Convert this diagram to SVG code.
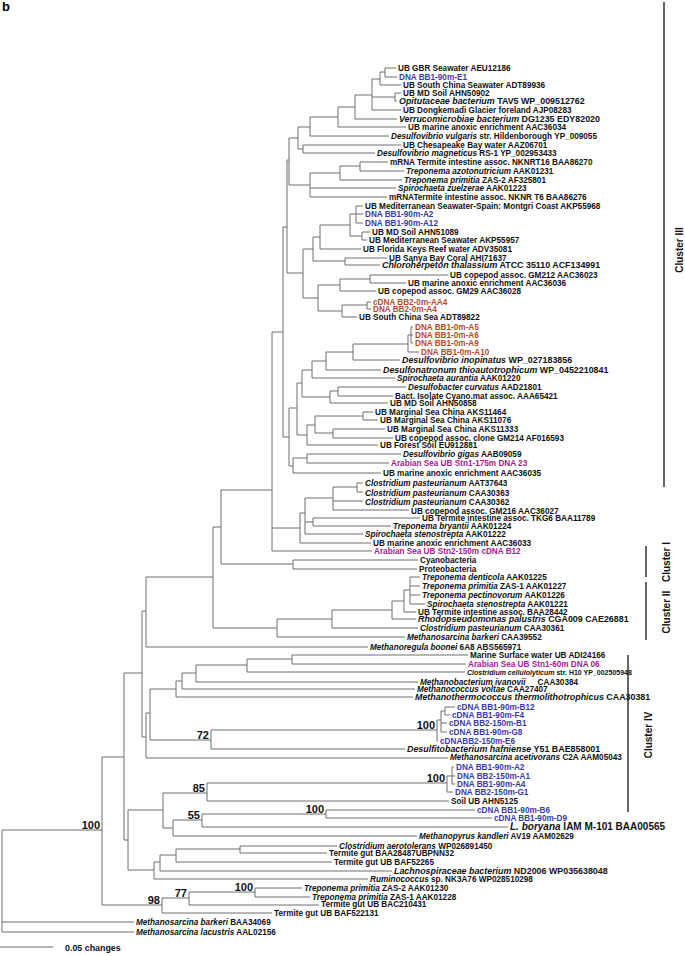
<svg xmlns="http://www.w3.org/2000/svg" width="685" height="956" viewBox="0 0 685 956">
<style>
.br{fill:none;stroke:#6e6e6e;stroke-width:1}
.L{font-family:'Liberation Sans',Arial,sans-serif;font-size:8.2px;font-weight:bold;fill:#111}
.L9{font-size:8.9px}
.L10{font-size:10px}
.L7{font-size:7px}
.i{font-style:italic}
.blue{fill:#3a3aa6}
.red{fill:#b54a2c}
.mag{fill:#a3218b}
.bs{font-family:'Liberation Sans',Arial,sans-serif;font-size:11px;font-weight:bold;text-anchor:end;fill:#111}
.cl{font-family:'Liberation Sans',Arial,sans-serif;font-size:10px;font-weight:bold;text-anchor:middle;fill:#111}
.brk{stroke:#111;stroke-width:1.3}
</style>
<rect width="685" height="956" fill="#fff"/>
<text x="2" y="11" font-family="Liberation Sans, Arial, sans-serif" font-size="13" font-weight="bold">b</text>
<g id="connectors">
<path class="br" d="M385,68V77M385,68H396M385,77H397 M380,72V85M380,72H385M380,85H401 M395,93V101M395,93H401M395,101H397 M372,79V110M372,79H380M372,97H395M372,110H401 M355,95V119M355,95H372M355,119H397 M338,107V127M338,107H355M338,127H406 M310,117V136M310,117H338M310,136H389 M303,145V153M303,145H401M303,153H375 M298,127V149M298,127H310M298,149H303"/>
<path class="br" d="M360,162V171M360,162H388M360,171H404 M340,166V180M340,166H360M340,180H402 M310,173V197M310,173H340M310,188H396M310,197H387 M289,138V185M289,138H298M289,185H310"/>
<path class="br" d="M356,206V223M356,206H363M356,214H363M356,223H363 M362,232V240M362,232H370M362,240H367 M350,214V236M350,214H356M350,236H362 M320,225V249M320,225H350M320,249H361 M345,258V265M345,258H387M345,265H380 M313,237V261M313,237H320M313,261H345 M370,275V283M370,275H448M370,283H406 M340,279V291M340,279H370M340,291H376 M367,302V309M367,302H371M367,309H371 M342,305V317M342,305H367M342,317H357 M318,285V311M318,285H340M318,311H342 M303,249V298M303,249H313M303,298H318 M287,160V273M287,160H289M287,273H303"/>
<path class="br" d="M411,327V343M411,327H413M411,335H413M411,343H413 M408,335V352M408,335H411M408,352H419 M353,344V360M353,344H408M353,360H400 M326,352V370M326,352H353M326,370H381 M312,361V378M312,361H326M312,378H395 M338,387V396M338,387H406M338,396H393 M330,391V403M330,391H338M330,403H388 M302,370V397M302,370H312M302,397H330 M363,412V420M363,412H373M363,420H378 M333,429V438M333,429H385M333,438H393 M315,416V433M315,416H363M315,433H333 M307,425V445M307,425H315M307,445H378 M297,383V435M297,383H302M297,435H307 M307,454V463M307,454H401M307,463H389 M293,458V473M293,458H307M293,473H381 M289,408V466M289,408H297M289,466H293 M283,227V437M283,227H287M283,437H289"/>
<path class="br" d="M357,483V492M357,483H363M357,492H363 M333,487V510M333,487H357M333,501H363M333,510H409 M313,518V526M313,518H420M313,526H391 M305,498V534M305,498H333M305,522H313M305,534H363 M300,513V543M300,513H305M300,543H371 M272,332V551M272,332H283M272,528H300M272,551H372 M293,560V569M293,560H418M293,569H417 M221,490V564M221,490H272M221,564H293"/>
<path class="br" d="M410,577V604M410,577H420M410,586H420M410,595H420M410,604H425 M404,590V612M404,590H410M404,612H416 M392,601V619M392,601H404M392,619H416 M332,610V628M332,610H392M332,628H418 M277,619V637M277,619H332M277,637H405 M213,527V628M213,527H221M213,628H277 M146,577V647M146,577H213M146,647H368"/>
<path class="br" d="M292,655V664M292,655H468M292,664H466 M247,659V672M247,659H292M247,672H465 M196,665V682M196,665H247M196,682H418 M182,673V689M182,673H196M182,689H415 M176,681V697M176,681H182M176,697H413 M445,707V715M445,707H455M445,715H450 M441,711V732M441,711H445M441,723H447M441,732H447 M437,720V741M437,720H441M437,741H438 M211,730V749M211,730H437M211,749H405 M150,689V740M150,689H176M150,740H211 M146,713V758M146,713H150M146,758H448 M142,611V737M142,611H146M142,737H146"/>
<path class="br" d="M452,767V784M452,767H454M452,776H455M452,784H455 M447,776V792M447,776H452M447,792H453 M207,783V801M207,783H447M207,801H449 M326,810V818M326,810H475M326,818H492 M202,814V827M202,814H326M202,827H508 M173,820V836M173,820H202M173,836H417 M163,793V828M163,793H207M163,828H173 M240,846V853M240,846H337M240,853H327 M176,849V862M176,849H240M176,862H332 M160,855V871M160,855H176M160,871H392 M154,862V879M154,862H160M154,879H368 M128,810V870M128,810H163M128,870H154 M124,673V840M124,673H142M124,840H128"/>
<path class="br" d="M255,888V897M255,888H302M255,897H310 M189,892V905M189,892H255M189,905H319 M162,898V913M162,898H189M162,913H272 M102,757V905M102,757H124M102,905H162 M2,830V932M2,830H102M2,922H134M2,932H134"/>
<path class="br" d="M0,947H53"/>
</g>
<g id="bootstrap">
<text class="bs" x="100" y="829">100</text>
<text class="bs" x="160" y="904">98</text>
<text class="bs" x="187" y="897">77</text>
<text class="bs" x="253" y="891">100</text>
<text class="bs" x="205" y="792">85</text>
<text class="bs" x="200" y="819">55</text>
<text class="bs" x="324" y="813">100</text>
<text class="bs" x="209" y="739">72</text>
<text class="bs" x="435" y="729">100</text>
<text class="bs" x="445" y="782">100</text>
</g>
<g id="t1"><text class="L" x="398" y="71">UB GBR Seawater AEU12186</text></g>
<g id="t2"><text class="L blue" x="399" y="80">DNA BB1-90m-E1</text></g>
<g id="t3"><text class="L" x="403" y="88">UB South China Seawater ADT89936</text></g>
<g id="t4"><text class="L" x="403" y="96">UB MD Soil AHN50902</text></g>
<g id="t5"><text class="L L9" x="399" y="104"><tspan class="i">Opitutaceae bacterium</tspan> TAV5 WP_009512762</text></g>
<g id="t6"><text class="L" x="403" y="113">UB Dongkemadi Glacier foreland AJP08283</text></g>
<g id="t7"><text class="L L9" x="399" y="122"><tspan class="i">Verrucomicrobiae bacterium</tspan> DG1235 EDY82020</text></g>
<g id="t8"><text class="L" x="408" y="130">UB marine anoxic enrichment AAC36034</text></g>
<g id="t9"><text class="L" x="391" y="139"><tspan class="i">Desulfovibrio vulgaris</tspan> str. Hildenborough YP_009055</text></g>
<g id="t10"><text class="L" x="403" y="148">UB Chesapeake Bay water AAZ06701</text></g>
<g id="t11"><text class="L" x="377" y="156"><tspan class="i">Desulfovibrio magneticus</tspan> RS-1 YP_002953433</text></g>
<g id="t12"><text class="L" x="390" y="165">mRNA Termite intestine assoc. NKNRT16 BAA86270</text></g>
<g id="t13"><text class="L" x="406" y="174"><tspan class="i">Treponema azotonutricium</tspan> AAK01231</text></g>
<g id="t14"><text class="L" x="404" y="183"><tspan class="i">Treponema primitia</tspan> ZAS-2 AF325801</text></g>
<g id="t15"><text class="L" x="398" y="191"><tspan class="i">Spirochaeta zuelzerae</tspan> AAK01223</text></g>
<g id="t16"><text class="L" x="389" y="200">mRNATermite intestine assoc. NKNR T6 BAA86276</text></g>
<g id="t17"><text class="L" x="365" y="209">UB Mediterranean Seawater-Spain: Montgri Coast AKP55968</text></g>
<g id="t18"><text class="L blue" x="365" y="217">DNA BB1-90m-A2</text></g>
<g id="t19"><text class="L blue" x="365" y="226">DNA BB1-90m-A12</text></g>
<g id="t20"><text class="L" x="372" y="235">UB MD Soil AHN51089</text></g>
<g id="t21"><text class="L" x="369" y="243">UB Mediterranean Seawater AKP55957</text></g>
<g id="t22"><text class="L" x="363" y="252">UB Florida Keys Reef water ADV35081</text></g>
<g id="t23"><text class="L" x="389" y="261">UB Sanya Bay Coral AHI71637</text></g>
<g id="t24"><text class="L L9" x="382" y="268"><tspan class="i">Chloroherpeton thalassium</tspan> ATCC 35110 ACF134991</text></g>
<g id="t25"><text class="L" x="450" y="278">UB copepod assoc. GM212 AAC36023</text></g>
<g id="t26"><text class="L" x="408" y="286">UB marine anoxic enrichment AAC36036</text></g>
<g id="t27"><text class="L" x="378" y="294">UB copepod assoc. GM29 AAC36028</text></g>
<g id="t28"><text class="L red" x="373" y="305">cDNA BB2-0m-AA4</text></g>
<g id="t29"><text class="L red" x="373" y="312">DNA BB2-0m-A4</text></g>
<g id="t30"><text class="L" x="359" y="320">UB South China Sea ADT89822</text></g>
<g id="t31"><text class="L red" x="415" y="330">DNA BB1-0m-A5</text></g>
<g id="t32"><text class="L red" x="415" y="338">DNA BB1-0m-A6</text></g>
<g id="t33"><text class="L red" x="415" y="346">DNA BB1-0m-A9</text></g>
<g id="t34"><text class="L red" x="421" y="355">DNA BB1-0m-A10</text></g>
<g id="t35"><text class="L L9" x="402" y="363"><tspan class="i">Desulfovibrio inopinatus</tspan> WP_027183856</text></g>
<g id="t36"><text class="L L9" x="383" y="373"><tspan class="i">Desulfonatronum thioautotrophicum</tspan> WP_0452210841</text></g>
<g id="t37"><text class="L" x="397" y="381"><tspan class="i">Spirochaeta aurantia</tspan> AAK01220</text></g>
<g id="t38"><text class="L" x="408" y="390"><tspan class="i">Desulfobacter curvatus</tspan> AAD21801</text></g>
<g id="t39"><text class="L" x="395" y="399">Bact. Isolate Cyano.mat assoc. AAA65421</text></g>
<g id="t40"><text class="L" x="390" y="406">UB MD Soil AHN50858</text></g>
<g id="t41"><text class="L" x="375" y="415">UB Marginal Sea China AKS11464</text></g>
<g id="t42"><text class="L" x="380" y="423">UB Marginal Sea China AKS11076</text></g>
<g id="t43"><text class="L" x="387" y="432">UB Marginal Sea China AKS11333</text></g>
<g id="t44"><text class="L" x="395" y="441">UB copepod assoc. clone GM214 AF016593</text></g>
<g id="t45"><text class="L" x="380" y="448">UB Forest Soil EU912881</text></g>
<g id="t46"><text class="L" x="403" y="457"><tspan class="i">Desulfovibrio gigas</tspan> AAB09059</text></g>
<g id="t47"><text class="L mag" x="391" y="466">Arabian Sea UB Stn1-175m DNA 23</text></g>
<g id="t48"><text class="L" x="383" y="476">UB marine anoxic enrichment AAC36035</text></g>
<g id="t49"><text class="L" x="365" y="486"><tspan class="i">Clostridium pasteurianum</tspan> AAT37643</text></g>
<g id="t50"><text class="L" x="365" y="496"><tspan class="i">Clostridium pasteurianum</tspan> CAA30363</text></g>
<g id="t51"><text class="L" x="365" y="505"><tspan class="i">Clostridium pasteurianum</tspan> CAA30362</text></g>
<g id="t52"><text class="L" x="411" y="514">UB copepod assoc. GM216 AAC36027</text></g>
<g id="t53"><text class="L" x="422" y="521">UB Termite intestine assoc. TKG6 BAA11789</text></g>
<g id="t54"><text class="L" x="393" y="529"><tspan class="i">Treponema bryantii</tspan> AAK01224</text></g>
<g id="t55"><text class="L" x="365" y="537"><tspan class="i">Spirochaeta stenostrepta</tspan> AAK01222</text></g>
<g id="t56"><text class="L" x="373" y="546">UB marine anoxic enrichment AAC36033</text></g>
<g id="t57"><text class="L mag" x="374" y="554">Arabian Sea UB Stn2-150m cDNA B12</text></g>
<g id="t58"><text class="L" x="420" y="563">Cyanobacteria</text></g>
<g id="t59"><text class="L" x="419" y="572">Proteobacteria</text></g>
<g id="t60"><text class="L" x="422" y="580"><tspan class="i">Treponema denticola</tspan> AAK01225</text></g>
<g id="t61"><text class="L" x="422" y="589"><tspan class="i">Treponema primitia</tspan> ZAS-1 AAK01227</text></g>
<g id="t62"><text class="L" x="422" y="598"><tspan class="i">Treponema pectinovorum</tspan> AAK01226</text></g>
<g id="t63"><text class="L" x="427" y="607"><tspan class="i">Spirochaeta stenostrepta</tspan> AAK01221</text></g>
<g id="t64"><text class="L" x="418" y="615">UB Termite intestine assoc. BAA28442</text></g>
<g id="t65"><text class="L L9" x="418" y="622"><tspan class="i">Rhodopseudomonas palustris</tspan> CGA009 CAE26881</text></g>
<g id="t66"><text class="L" x="420" y="631"><tspan class="i">Clostridium pasteurianum</tspan> CAA30361</text></g>
<g id="t67"><text class="L" x="407" y="640"><tspan class="i">Methanosarcina barkeri</tspan> CAA39552</text></g>
<g id="t68"><text class="L" x="370" y="650"><tspan class="i">Methanoregula boonei</tspan> 6A8 ABS565971</text></g>
<g id="t69"><text class="L" x="470" y="658">Marine Surface water UB ADI24166</text></g>
<g id="t70"><text class="L mag" x="468" y="667">Arabian Sea UB Stn1-60m DNA 06</text></g>
<g id="t71"><text class="L L7" x="467" y="675"><tspan class="i">Clostridium cellulolyticum</tspan> str. H10 YP_002505948</text></g>
<g id="t72"><text class="L" x="420" y="685"><tspan class="i">Methanobacterium ivanovii</tspan><tspan dx="12">CAA30384</tspan></text></g>
<g id="t73"><text class="L" x="417" y="692"><tspan class="i">Methanococcus voltae</tspan> CAA27407</text></g>
<g id="t74"><text class="L L9" x="415" y="700"><tspan class="i">Methanothermococcus thermolithotrophicus</tspan> CAA30381</text></g>
<g id="t75"><text class="L blue" x="457" y="710">cDNA BB1-90m-B12</text></g>
<g id="t76"><text class="L blue" x="452" y="718">cDNA BB1-90m-F4</text></g>
<g id="t77"><text class="L blue" x="449" y="726">cDNA BB2-150m-B1</text></g>
<g id="t78"><text class="L blue" x="449" y="735">cDNA BB1-90m-G8</text></g>
<g id="t79"><text class="L blue" x="440" y="744">cDNABB2-150m-E6</text></g>
<g id="t80"><text class="L L9" x="407" y="752"><tspan class="i">Desulfitobacterium hafniense</tspan> Y51 BAE858001</text></g>
<g id="t81"><text class="L" x="450" y="760"><tspan class="i">Methanosarcina acetivorans</tspan> C2A AAM05043</text></g>
<g id="t82"><text class="L blue" x="456" y="770">DNA BB1-90m-A2</text></g>
<g id="t83"><text class="L blue" x="457" y="779">DNA BB2-150m-A1</text></g>
<g id="t84"><text class="L blue" x="457" y="787">DNA BB1-90m-A4</text></g>
<g id="t85"><text class="L blue" x="455" y="795">DNA BB2-150m-G1</text></g>
<g id="t86"><text class="L" x="451" y="804">Soil UB AHN5125</text></g>
<g id="t87"><text class="L blue" x="477" y="813">cDNA BB1-90m-B6</text></g>
<g id="t88"><text class="L blue" x="494" y="821">cDNA BB1-90m-D9</text></g>
<g id="t89"><text class="L L10" x="510" y="830"><tspan class="i">L. boryana</tspan> IAM M-101 BAA00565</text></g>
<g id="t90"><text class="L" x="419" y="839"><tspan class="i">Methanopyrus kandleri</tspan> AV19 AAM02629</text></g>
<g id="t91"><text class="L" x="339" y="849"><tspan class="i">Clostridium aerotolerans</tspan> WP026891450</text></g>
<g id="t92"><text class="L" x="329" y="856">Termite gut BAA28487UBPNN32</text></g>
<g id="t93"><text class="L" x="334" y="865">Termite gut UB BAF52265</text></g>
<g id="t94"><text class="L L9" x="394" y="874"><tspan class="i">Lachnospiraceae bacterium</tspan> ND2006 WP035638048</text></g>
<g id="t95"><text class="L" x="370" y="882"><tspan class="i">Ruminococcus</tspan> sp. NK3A76 WP028510298</text></g>
<g id="t96"><text class="L" x="304" y="891"><tspan class="i">Treponema primitia</tspan> ZAS-2 AAK01230</text></g>
<g id="t97"><text class="L" x="312" y="900"><tspan class="i">Treponema primitia</tspan> ZAS-1 AAK01228</text></g>
<g id="t98"><text class="L" x="321" y="907">Termite gut UB BAC210431</text></g>
<g id="t99"><text class="L" x="274" y="916">Termite gut UB BAF522131</text></g>
<g id="t100"><text class="L" x="136" y="925"><tspan class="i">Methanosarcina barkeri</tspan> BAA34069</text></g>
<g id="t101"><text class="L" x="136" y="935"><tspan class="i">Methanosarcina lacustris</tspan> AAL02156</text></g>
<g id="scale"><text class="L L9" x="65" y="951">0.05 changes</text></g>
<g id="clusters">
<line class="brk" x1="664" y1="2" x2="664" y2="487"/>
<text class="cl" transform="translate(683,250) rotate(-90)">Cluster III</text>
<line class="brk" x1="646" y1="546" x2="646" y2="577"/>
<text class="cl" transform="translate(670,562) rotate(-90)">Cluster I</text>
<line class="brk" x1="646" y1="582" x2="646" y2="640"/>
<text class="cl" transform="translate(670,612) rotate(-90)">Cluster II</text>
<line class="brk" x1="628" y1="655" x2="628" y2="812"/>
<text class="cl" transform="translate(652,735) rotate(-90)">Cluster IV</text>
</g>
</svg>
